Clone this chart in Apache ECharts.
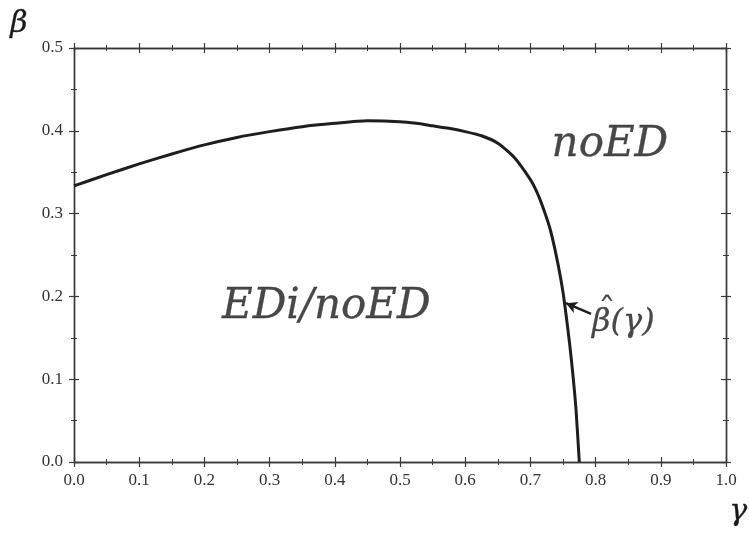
<!DOCTYPE html>
<html>
<head>
<meta charset="utf-8">
<script src="https://cdn.jsdelivr.net/npm/echarts@6/dist/echarts.min.js"></script>
<style>html,body{margin:0;padding:0;background:#fff;}#c{width:749px;height:538px;}</style>
</head>
<body>
<div id="c"></div>
<script>
// Boundary curve beta-hat(gamma)
const gammaValues = [0, 0.05, 0.1, 0.15, 0.2, 0.25, 0.3, 0.35, 0.4, 0.45, 0.5, 0.525, 0.55, 0.575, 0.6, 0.625, 0.65, 0.675, 0.7, 0.71, 0.72, 0.73, 0.74, 0.75, 0.76, 0.765, 0.77, 0.775];
const betaValues  = [0.3335, 0.347, 0.360, 0.372, 0.383, 0.392, 0.399, 0.405, 0.409, 0.412, 0.411, 0.409, 0.406, 0.403, 0.399, 0.394, 0.385, 0.368, 0.341, 0.326, 0.306, 0.282, 0.248, 0.205, 0.144, 0.107, 0.063, 0.0];
const xTickLabels = ['0.0','0.1','0.2','0.3','0.4','0.5','0.6','0.7','0.8','0.9','1.0'];
const yTickLabels = ['0.0','0.1','0.2','0.3','0.4','0.5'];
const regionNames = ['noED', 'EDi/noED'];
const regionAt = [[0.822, 0.383], [0.387, 0.187]];
const curveName = 'β(γ)';
const hatMark = 'ˆ';
const arrowFrom = [0.793, 0.179];
const arrowTo = [0.7546, 0.1918];

const curve = gammaValues.map((g, i) => [g, betaValues[i]]);
const fmtX = v => xTickLabels[Math.round(v * 10)] || '';
const fmtY = v => yTickLabels[Math.round(v * 10)] || '';

const lineC = '#3a3a3a';
function xAx(pos, inside, labels) {
  return {
    type: 'value', position: pos, min: 0, max: 1, interval: 0.1,
    axisLine: { show: true, onZero: false, lineStyle: { color: lineC, width: 1.4 } },
    axisTick: { show: true, inside: inside, length: 5, lineStyle: { color: lineC, width: 1.2 } },
    minorTick: { show: true, splitNumber: 2, length: 3, lineStyle: { color: lineC, width: 1 } },
    splitLine: { show: false }, minorSplitLine: { show: false },
    axisLabel: { show: labels, formatter: fmtX, margin: 10, color: '#333', fontFamily: 'Liberation Serif', fontSize: 17 }
  };
}
function yAx(pos, inside, labels) {
  return {
    type: 'value', position: pos, min: 0, max: 0.5, interval: 0.1,
    axisLine: { show: true, onZero: false, lineStyle: { color: lineC, width: 1.4 } },
    axisTick: { show: true, inside: inside, length: 5, lineStyle: { color: lineC, width: 1.2 } },
    minorTick: { show: true, splitNumber: 2, length: 3, lineStyle: { color: lineC, width: 1 } },
    splitLine: { show: false }, minorSplitLine: { show: false },
    axisLabel: { show: labels, formatter: fmtY, margin: 11, color: '#333', fontFamily: 'Liberation Serif', fontSize: 17 }
  };
}
const txt = { fontFamily: 'DejaVu Serif', fontStyle: 'italic', color: '#1a1a1a', textBorderColor: '#1a1a1a', textBorderWidth: 0.3 };

const chart = echarts.init(document.getElementById('c'), null, { renderer: 'canvas' });
chart.setOption({
  animation: false,
  backgroundColor: '#fff',
  grid: { left: 74, right: 23, top: 48, bottom: 76 },
  xAxis: [xAx('bottom', false, true), xAx('bottom', true, false), xAx('top', false, false), xAx('top', true, false)],
  yAxis: [yAx('left', false, true), yAx('left', true, false), yAx('right', false, false), yAx('right', true, false)],
  graphic: [
    { type: 'text', left: 10, top: 9, style: { text: 'β', font: 'italic 30px "DejaVu Serif"', fill: '#1a1a1a', stroke: '#1a1a1a', lineWidth: 0.3 } },
    { type: 'text', left: 729, top: 497, style: { text: 'γ', font: 'italic 30px "DejaVu Serif"', fill: '#1a1a1a', stroke: '#1a1a1a', lineWidth: 0.3 } }
  ],
  series: [
    {
      type: 'line', data: curve, smooth: 0.2, showSymbol: false, symbol: 'none',
      lineStyle: { color: '#1e1e1e', width: 3 },
      markLine: {
        silent: true, symbol: ['none', 'arrow'], symbolSize: [9, 11],
        lineStyle: { color: '#1e1e1e', width: 2.5, type: 'solid' },
        label: { show: false },
        data: [[{ coord: arrowFrom }, { coord: arrowTo }]]
      }
    },
    {
      type: 'scatter', symbolSize: 0, silent: true,
      data: regionNames.map((n, i) => ({ value: regionAt[i], name: n })),
      label: Object.assign({ show: true, position: 'inside', formatter: p => p.name, fontSize: 42 }, txt)
    },
    {
      type: 'scatter', symbolSize: 0, silent: true,
      data: [{ value: arrowFrom, name: curveName }],
      label: Object.assign({ show: true, position: 'right', distance: 1, formatter: p => p.name, offset: [0, 9], fontSize: 32 }, txt)
    },
    {
      type: 'scatter', symbolSize: 0, silent: true,
      data: [{ value: arrowFrom, name: hatMark }],
      label: { show: true, position: 'right', distance: 1, formatter: p => p.name, offset: [6, 0],
        fontFamily: 'DejaVu Serif', fontSize: 36, color: '#1a1a1a' }
    }
  ]
});
</script>
</body>
</html>
